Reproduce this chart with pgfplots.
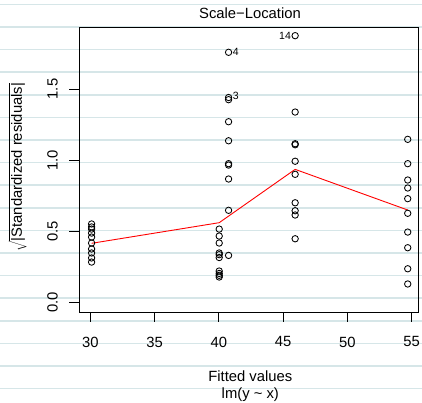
\documentclass[border=0pt]{standalone}
\usepackage{fontspec}
\setmainfont{Liberation Sans}
\usepackage{pgfplots}
\pgfplotsset{compat=1.18}
\definecolor{paperline}{RGB}{214,230,232}
\definecolor{rred}{RGB}{255,0,0}

\pgfplotstableread{
x y
30.1 0.551
30.1 0.530
30.1 0.515
30.1 0.487
30.1 0.459
30.1 0.417
30.1 0.375
30.1 0.347
30.1 0.312
30.1 0.283
40.03 0.515
40.03 0.466
40.03 0.417
40.03 0.347
40.03 0.335
40.03 0.315
40.03 0.220
40.03 0.203
40.03 0.190
40.03 0.178
40.76 1.758
40.76 1.440
40.76 1.425
40.76 1.270
40.76 1.136
40.76 0.975
40.76 0.965
40.76 0.867
40.76 0.647
40.76 0.330
45.94 1.875
45.94 1.338
45.94 1.115
45.94 1.108
45.94 0.992
45.94 0.900
45.94 0.700
45.94 0.644
45.94 0.614
45.94 0.447
54.70 1.146
54.70 0.975
54.70 0.860
54.70 0.804
54.70 0.729
54.70 0.626
54.70 0.494
54.70 0.384
54.70 0.236
54.70 0.129
}\pts

\pgfplotstableread{
x y
30.1 0.415
40.03 0.560
45.94 0.935
54.70 0.649
}\smooth

\begin{document}
\begin{tikzpicture}[x=1bp,y=1bp,font=\fontsize{14.8bp}{17.8bp}\selectfont]
\useasboundingbox (0,0) rectangle (422,403);
\foreach \k in {0,...,17} {
  \draw[paperline, line width=1.5bp] (0,{403-4.4-22.6*\k}) -- (422,{403-4.4-22.6*\k});
}
\begin{axis}[
  at={(79bp,91bp)}, anchor=south west,
  scale only axis, width=339bp, height=285bp,
  xmin=29.12, xmax=55.5, ymin=-0.068, ymax=1.936,
  axis line style={line width=0.9bp},
  tick pos=left, tick align=outside,
  major tick length=9.5bp,
  every tick/.style={black, line width=0.9bp},
  xtick={30,35,40,45,50,55},
  xticklabels={30,35,40,45,50,55},
  ytick={0,0.5,1,1.5},
  yticklabels={0.0,0.5,1.0,1.5},
  /pgf/number format/assume math mode=true,
  xticklabel style={anchor=north, inner sep=0pt},
  yticklabel style={rotate=90, anchor=south, inner sep=0pt},
  xticklabel shift=15bp,
  yticklabel shift=11.5bp,
  clip=false,
]
\addplot[only marks, mark=o, mark size=3.2bp, mark options={line width=0.85bp, black}] table[x=x,y=y] {\pts};
\addplot[rred, line width=0.9bp, no marks] table[x=x,y=y] {\smooth};
\node[anchor=east, font=\fontsize{10.5bp}{12bp}\selectfont, inner sep=1bp] at (axis cs:45.7,1.875) {14};
\node[anchor=west, font=\fontsize{10.5bp}{12bp}\selectfont, inner sep=1bp] at (axis cs:41.0,1.758) {4};
\node[anchor=west, font=\fontsize{10.5bp}{12bp}\selectfont, inner sep=1bp] at (axis cs:41.0,1.455) {3};
\end{axis}
\node at (250,390) {Scale−Location};
\node at (250.3,26.3) {Fitted values};
\node at (250.3,8) {lm(y \textasciitilde{} x)};
\node[rotate=90, inner sep=1bp] at (17.5,236) {$\sqrt{\mbox{|Standardized residuals|}}$};
\end{tikzpicture}
\end{document}
